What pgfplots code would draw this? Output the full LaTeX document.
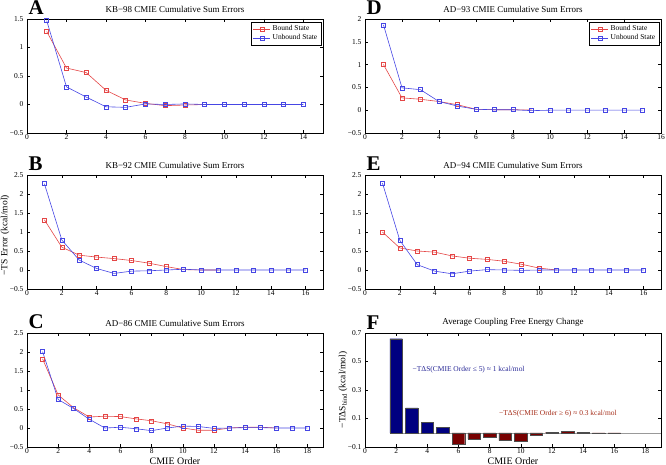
\documentclass[border=0pt]{standalone}
\usepackage{pgfplots}
\pgfplotsset{compat=1.18}
\usepackage{fontspec}
\setmainfont{Liberation Serif}
\definecolor{lred}{RGB}{228,70,70}
\definecolor{lblue}{RGB}{70,70,228}
\definecolor{barblue}{RGB}{0,0,128}
\definecolor{barred}{RGB}{120,0,0}
\definecolor{txtblue}{RGB}{40,40,150}
\definecolor{txtred}{RGB}{165,45,25}
\tikzset{
  plet/.style={font=\fontsize{21}{21}\selectfont\bfseries, anchor=base west, inner sep=0pt, xshift=1.5bp, yshift=4bp},
}
\pgfplotsset{
  panel/.style={scale only axis, width=296bp, height=114bp, anchor=south west,
    clip=false,
    tick align=inside, major tick length=3bp,
    tick style={black, line width=0.4pt},
    axis line style={line width=0.5pt},
    ticklabel style={font=\fontsize{7.5}{8}\selectfont},
    xticklabel style={inner sep=1bp, yshift=-0.5bp},
    /pgf/number format/assume math mode=true,
    title style={font=\fontsize{9}{10}\selectfont, yshift=-3bp},
    xlabel style={font=\fontsize{10}{11}\selectfont},
    ylabel style={font=\fontsize{9.5}{10}\selectfont},
  },
  cmiex/.style={xlabel={CMIE Order}, xlabel style={at={(axis description cs:0.5,0)}, anchor=base, inner sep=0.5bp, yshift=-17.3bp}},
  bnd/.style={lred, line width=0.6pt, mark=square, mark size=2bp, mark options={solid, line width=0.5pt}},
  unb/.style={lblue, line width=0.6pt, mark=square, mark size=2bp, mark options={solid, line width=0.5pt}},
  leg/.style={legend style={at={(axis description cs:0.993,0.975)}, anchor=north east,
    font=\fontsize{7.5}{8.5}\selectfont, inner sep=1.5bp, row sep=-1.5bp, draw=black, line width=0.4pt},
    legend cell align=left},
}
\begin{document}
\begin{tikzpicture}
\path[use as bounding box] (0,0) rectangle (666bp,465bp);
% ---------- A ----------
\begin{axis}[panel, at={(27bp,332bp)}, xmin=0, xmax=15, xtick={0,2,...,14},
  ymin=-0.5, ymax=1.5, ytick={-0.5,0,0.5,1,1.5}, yticklabels={−0.5,0,0.5,1,1.5},
  title={KB−98 CMIE Cumulative Sum Errors}, leg]
\addplot[bnd] coordinates {(1,1.28) (2,0.64) (3,0.56) (4,0.25) (5,0.08) (6,0.02) (7,-0.02) (8,-0.01) (9,0)};
\addlegendentry{Bound State}
\addplot[unb] coordinates {(1,1.47) (2,0.31) (3,0.13) (4,-0.04) (5,-0.05) (6,0.01) (7,0.0) (8,0.01) (9,0) (10,0) (11,0) (12,0) (13,0) (14,0)};
\addlegendentry{Unbound State}
\node[plet] at (rel axis cs:0,1) {A};
\end{axis}
% ---------- D ----------
\begin{axis}[panel, at={(365bp,332bp)}, xmin=0, xmax=16, xtick={0,2,...,16},
  ymin=-0.5, ymax=2, ytick={-0.5,0,0.5,1,1.5,2}, yticklabels={−0.5,0,0.5,1,1.5,2},
  title={AD−93 CMIE Cumulative Sum Errors}, leg]
\addplot[bnd] coordinates {(1,1.0) (2,0.27) (3,0.24) (4,0.19) (5,0.12) (6,0.02) (7,0.01) (8,0.01) (9,0.005)};
\addlegendentry{Bound State}
\addplot[unb] coordinates {(1,1.87) (2,0.49) (3,0.45) (4,0.19) (5,0.09) (6,0.02) (7,0.01) (8,0.01) (9,-0.01) (10,0) (11,0) (12,0) (13,0) (14,0) (15,0)};
\addlegendentry{Unbound State}
\node[plet] at (rel axis cs:0,1) {D};
\end{axis}
% ---------- B ----------
\begin{axis}[panel, at={(27bp,176bp)}, xmin=0, xmax=17, xtick={0,2,...,16},
  ymin=-0.5, ymax=2.5, ytick={-0.5,0,0.5,1,1.5,2,2.5}, yticklabels={−0.5,0,0.5,1,1.5,2,2.5},
  title={KB−92 CMIE Cumulative Sum Errors},
  ylabel={−TS Error (kcal/mol)},
  ylabel style={at={(axis description cs:-0.074,0.47)}, anchor=center}]
\addplot[bnd] coordinates {(1,1.32) (2,0.6) (3,0.39) (4,0.34) (5,0.3) (6,0.25) (7,0.18) (8,0.09) (9,0.01) (10,0) (11,0)};
\addplot[unb] coordinates {(1,2.27) (2,0.79) (3,0.26) (4,0.04) (5,-0.09) (6,-0.03) (7,-0.02) (8,0.0) (9,0.02) (10,0) (11,0) (12,0) (13,0) (14,0) (15,0) (16,0)};
\node[plet] at (rel axis cs:0,1) {B};
\end{axis}
% ---------- E ----------
\begin{axis}[panel, at={(365bp,176bp)}, xmin=0, xmax=17, xtick={0,2,...,16},
  ymin=-0.5, ymax=2.5, ytick={-0.5,0,0.5,1,1.5,2,2.5}, yticklabels={−0.5,0,0.5,1,1.5,2,2.5},
  title={AD−94 CMIE Cumulative Sum Errors}]
\addplot[bnd] coordinates {(1,1.0) (2,0.58) (3,0.5) (4,0.47) (5,0.37) (6,0.31) (7,0.28) (8,0.23) (9,0.15) (10,0.05) (11,0.0)};
\addplot[unb] coordinates {(1,2.29) (2,0.78) (3,0.14) (4,-0.03) (5,-0.1) (6,-0.03) (7,0.01) (8,0.0) (9,-0.01) (10,0) (11,0) (12,0) (13,0) (14,0) (15,0) (16,0)};
\node[plet] at (rel axis cs:0,1) {E};
\end{axis}
% ---------- C ----------
\begin{axis}[panel, at={(27bp,18bp)}, xmin=0, xmax=19, xtick={0,2,...,18},
  ymin=-0.5, ymax=2.5, ytick={-0.5,0,0.5,1,1.5,2,2.5}, yticklabels={−0.5,0,0.5,1,1.5,2,2.5},
  title={AD−86 CMIE Cumulative Sum Errors}, cmiex]
\addplot[bnd] coordinates {(1,1.82) (2,0.87) (3,0.53) (4,0.29) (5,0.31) (6,0.30) (7,0.24) (8,0.19) (9,0.11) (10,0.0) (11,-0.06) (12,-0.06) (13,0.0) (14,0.02) (15,0.02) (16,0.0)};
\addplot[unb] coordinates {(1,2.01) (2,0.75) (3,0.51) (4,0.23) (5,0.0) (6,0.02) (7,-0.02) (8,-0.07) (9,0.0) (10,0.05) (11,0.04) (12,-0.01) (13,0.0) (14,0.01) (15,0.01) (16,0.0) (17,0) (18,0)};
\node[plet] at (rel axis cs:0,1) {C};
\end{axis}
% ---------- F ----------
\begin{axis}[panel, at={(365bp,18bp)}, xmin=0, xmax=19, xtick={0,2,...,18},
  ymin=-0.1, ymax=0.7, ytick={-0.1,0.1,0.3,0.5,0.7}, yticklabels={−0.1,0.1,0.3,0.5,0.7},
  title={Average Coupling Free Energy Change}, cmiex,
  ylabel={−TΔS\textsubscript{bind} (kcal/mol)},
  ylabel style={at={(axis description cs:-0.074,0.5)}, anchor=center}]
\addplot[gray!80, line width=0.5pt] coordinates {(1.6,0) (19,0)};
\addplot[ybar, bar width=0.8, bar shift=0pt, fill=barblue, draw=black!70, line width=0.4pt]
  coordinates {(2,0.66) (3,0.175) (4,0.075) (5,0.04)};
\addplot[ybar, bar width=0.8, bar shift=0pt, fill=barred, draw=black!70, line width=0.4pt]
  coordinates {(6,-0.08) (7,-0.045) (8,-0.03) (9,-0.055) (10,-0.06) (11,-0.02) (12,0.005) (13,0.01) (14,0.003) (15,-0.002) (16,-0.003)};
\node[font=\fontsize{7.5}{8}\selectfont, text=txtblue, anchor=west, inner sep=0pt] at (axis cs:3.05,0.44) {−TΔS(CMIE Order ≤ 5) ≈ 1 kcal/mol};
\node[font=\fontsize{7.5}{8}\selectfont, text=txtred, anchor=west, inner sep=0pt] at (axis cs:8.6,0.135) {−TΔS(CMIE Order ≥ 6) ≈ 0.3 kcal/mol};
\node[plet] at (rel axis cs:0,1) {F};
\end{axis}
\end{tikzpicture}
\end{document}
